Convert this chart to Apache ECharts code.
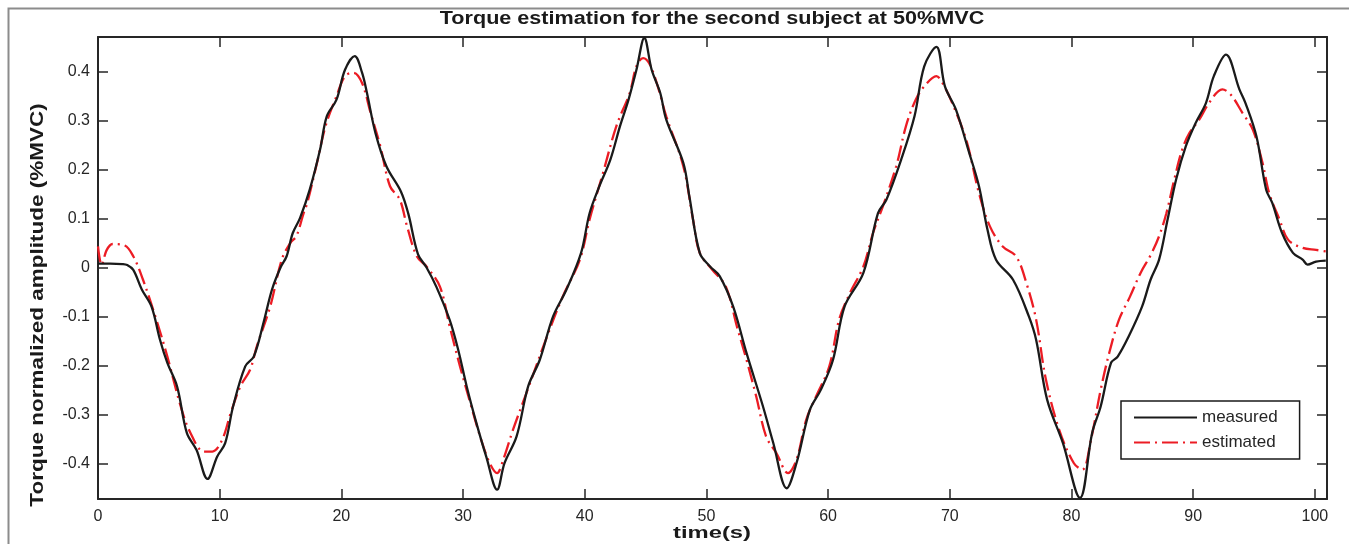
<!DOCTYPE html>
<html>
<head>
<meta charset="utf-8">
<script src="https://cdn.jsdelivr.net/npm/echarts@6/dist/echarts.min.js"></script>
<style>
html,body{margin:0;padding:0;background:#fff;}
#chart{width:1349px;height:544px;}
</style>
</head>
<body>
<div id="chart"></div>
<script>
// ---- data ----
var titleText = 'Torque estimation for the second subject at 50%MVC';
var xLabel = 'time(s)';
var yLabel = 'Torque normalized amplitude (%MVC)';
var seriesNames = ['measured', 'estimated'];

var measuredT = [0,1.0,2.0,2.4,2.9,3.6,4.4,5.1,5.7,6.5,7.3,8.1,9.0,9.8,10.45,11.1,12.1,12.8,13.6,14.3,15.0,15.5,16.0,16.6,17.4,18.25,18.8,19.6,20.3,21.1,21.7,22.1,22.8,23.7,24.9,25.5,26.3,27.0,27.8,28.9,29.6,30.3,31.1,31.9,32.8,33.4,34.4,35.35,36.3,37.4,38.5,39.7,40.4,41.2,42.1,42.9,43.6,44.25,44.9,45.5,46.2,46.7,48.1,48.6,49.45,50.3,51.1,52.2,53.3,54.65,55.5,56.6,57.4,58.5,59.4,60.4,61.35,62.9,64.1,64.8,66.0,67.1,67.9,68.9,69.6,70.5,71.6,72.4,73.1,73.8,75.2,76.5,77.1,78.0,79.3,80.7,81.7,82.4,83.25,83.8,84.7,85.8,86.5,87.2,87.9,88.6,89.4,90.2,91.05,91.7,92.7,93.8,94.3,95.2,96.0,96.5,97.3,98.2,99.0,99.4,100.1,100.9];
var measuredV = [0.008,0.008,0.007,0.005,-0.005,-0.045,-0.08,-0.148,-0.195,-0.243,-0.338,-0.373,-0.432,-0.386,-0.359,-0.284,-0.202,-0.182,-0.113,-0.045,0.0,0.023,0.07,0.101,0.159,0.241,0.309,0.343,0.404,0.432,0.398,0.357,0.275,0.207,0.155,0.11,0.027,0.0,-0.039,-0.107,-0.168,-0.243,-0.318,-0.386,-0.454,-0.4,-0.345,-0.243,-0.189,-0.1,-0.045,0.03,0.111,0.166,0.22,0.289,0.343,0.404,0.469,0.404,0.357,0.302,0.214,0.145,0.03,0.002,-0.018,-0.08,-0.175,-0.284,-0.359,-0.451,-0.4,-0.291,-0.25,-0.189,-0.08,-0.011,0.111,0.139,0.22,0.309,0.411,0.451,0.37,0.323,0.234,0.166,0.077,0.016,-0.025,-0.1,-0.148,-0.27,-0.359,-0.471,-0.338,-0.284,-0.195,-0.182,-0.141,-0.08,-0.025,0.016,0.098,0.18,0.248,0.295,0.336,0.391,0.435,0.364,0.336,0.268,0.159,0.132,0.071,0.03,0.016,0.006,0.012,0.014];

var estimatedT = [0,0.3,0.7,1.2,2.2,2.9,3.7,4.8,5.7,6.8,7.6,8.7,9.4,10.2,10.9,11.7,12.5,13.05,14.15,15.1,15.8,16.3,16.9,17.2,18.0,18.7,19.6,20.3,21.0,21.7,22.4,23.2,24.0,24.8,25.4,26.2,27.0,28.1,28.9,29.75,30.6,31.4,32.2,32.8,33.3,34.1,35.2,36.9,38.2,39.6,40.4,41.5,42.6,43.7,44.25,44.8,45.35,46.0,46.7,48.1,48.9,49.45,50.5,51.6,52.5,53.3,54.1,54.9,55.75,56.7,57.4,58.2,59.0,60.1,60.9,61.8,62.9,63.7,64.5,65.6,66.4,67.2,67.9,68.9,69.4,70.2,71.35,72.4,73.3,74.35,75.45,76.3,77.1,77.9,79.0,80.2,80.9,81.6,82.4,83.1,83.9,84.8,85.7,86.5,87.2,87.8,88.45,89.1,89.7,90.5,91.3,92.4,93.1,94.05,94.9,95.7,96.25,97.1,97.8,99.0,100.1,100.9];
var estimatedV = [0.043,0.005,0.035,0.048,0.045,0.023,-0.025,-0.107,-0.182,-0.284,-0.338,-0.376,-0.376,-0.352,-0.298,-0.243,-0.209,-0.161,-0.08,0.016,0.05,0.064,0.111,0.132,0.214,0.289,0.35,0.391,0.398,0.377,0.316,0.248,0.166,0.139,0.084,0.023,0.002,-0.039,-0.12,-0.202,-0.277,-0.345,-0.4,-0.42,-0.393,-0.332,-0.257,-0.141,-0.059,0.016,0.098,0.193,0.289,0.357,0.411,0.428,0.415,0.37,0.309,0.207,0.098,0.03,-0.005,-0.039,-0.12,-0.189,-0.264,-0.345,-0.379,-0.42,-0.393,-0.311,-0.264,-0.202,-0.107,-0.052,0.002,0.071,0.125,0.207,0.289,0.343,0.37,0.391,0.377,0.336,0.261,0.152,0.084,0.043,0.023,-0.032,-0.107,-0.229,-0.332,-0.4,-0.413,-0.352,-0.25,-0.175,-0.107,-0.06,-0.01,0.025,0.064,0.111,0.18,0.241,0.275,0.302,0.336,0.364,0.353,0.316,0.282,0.214,0.152,0.098,0.057,0.04,0.036,0.033];

var xMin = 0, xMax = 101, xStep = 10;
var yMin = -0.473, yMax = 0.471;

// ---- build ----
function pairs(t, v) { var o = []; for (var i = 0; i < t.length; i++) o.push([t[i], v[i]]); return o; }
var FONT = 'Arial, "Liberation Sans", Helvetica, sans-serif';
var textCol = '#262626';

var chart = echarts.init(document.getElementById('chart'), null, { renderer: 'canvas' });

function yFmt(v) {
  var r = Math.round(v * 10) / 10;
  if (Math.abs(v - r) > 1e-6) return '';
  if (Math.abs(r) < 1e-9) return '0';
  return r.toFixed(1);
}

var axisLineStyle = { color: '#262626', width: 2 };
var tickStyle = { show: true, inside: true, length: 10, lineStyle: { color: '#262626', width: 1.5 } };

var option = {
  backgroundColor: '#fff',
  animation: false,
  grid: { left: 98, right: 22, top: 37, bottom: 45, containLabel: false },
  xAxis: [{
    type: 'value', min: xMin, max: xMax, interval: xStep, position: 'bottom',
    axisLine: { show: true, onZero: false, lineStyle: axisLineStyle },
    axisTick: tickStyle,
    axisLabel: { fontFamily: FONT, fontSize: 16, color: textCol, margin: 10,
      formatter: function (v) { return (Math.abs(v % 10) < 1e-9) ? String(v) : ''; } },
    splitLine: { show: false }
  }, {
    type: 'value', min: xMin, max: xMax, interval: xStep, position: 'top',
    axisLine: { show: true, onZero: false, lineStyle: axisLineStyle },
    axisTick: tickStyle,
    axisLabel: { show: false }, splitLine: { show: false }
  }],
  yAxis: [{
    type: 'value', min: yMin, max: yMax, splitNumber: 9, position: 'left',
    axisLine: { show: true, onZero: false, lineStyle: axisLineStyle },
    axisTick: tickStyle,
    axisLabel: { fontFamily: FONT, fontSize: 16, color: textCol, margin: 8, formatter: yFmt,
      showMinLabel: false, showMaxLabel: false },
    splitLine: { show: false }
  }, {
    type: 'value', min: yMin, max: yMax, splitNumber: 9, position: 'right',
    axisLine: { show: true, onZero: false, lineStyle: axisLineStyle },
    axisTick: tickStyle,
    axisLabel: { show: false }, splitLine: { show: false }
  }],
  legend: {
    orient: 'vertical', left: 1121, top: 401,
    data: seriesNames,
    itemWidth: 63, itemHeight: 14, itemGap: 8,
    padding: [8, 22, 8, 12],
    borderColor: '#1a1a1a', borderWidth: 1.5, backgroundColor: '#fff',
    itemStyle: { opacity: 0 },
    textStyle: { fontFamily: FONT, fontSize: 17, color: textCol }
  },
  graphic: [{
    type: 'rect', left: 6, top: 6, silent: true,
    shape: { x: 0, y: 0, width: 1360, height: 560 },
    style: { fill: 'none', stroke: '#8c8c8c', lineWidth: 2 }
  }, {
    type: 'text', x: 712, y: 19, scaleX: 1.2, scaleY: 1, silent: true,
    style: { text: titleText, fontFamily: FONT, fontSize: 18, fontWeight: 'bold',
      fill: '#1a1a1a', textAlign: 'center', textVerticalAlign: 'middle' }
  }, {
    type: 'text', x: 712, y: 533, scaleX: 1.4, scaleY: 1, silent: true,
    style: { text: xLabel, fontFamily: FONT, fontSize: 17, fontWeight: 'bold',
      fill: '#1a1a1a', textAlign: 'center', textVerticalAlign: 'middle' }
  }, {
    type: 'text', x: 38, y: 305, rotation: Math.PI / 2, scaleX: 1.25, scaleY: 1, silent: true,
    style: { text: yLabel, fontFamily: FONT, fontSize: 18, fontWeight: 'bold',
      fill: '#1a1a1a', textAlign: 'center', textVerticalAlign: 'middle' }
  }],
  series: [{
    name: seriesNames[0], type: 'line', xAxisIndex: 0, yAxisIndex: 0,
    data: pairs(measuredT, measuredV),
    showSymbol: false, symbol: 'none', smooth: 0.35,
    lineStyle: { color: '#1a1a1a', width: 2.3 },
    itemStyle: { color: '#1a1a1a' }, z: 3
  }, {
    name: seriesNames[1], type: 'line', xAxisIndex: 0, yAxisIndex: 0,
    data: pairs(estimatedT, estimatedV),
    showSymbol: false, symbol: 'none', smooth: 0.35,
    lineStyle: { color: '#ec1c24', width: 2.3, type: [16, 5, 2, 5] },
    itemStyle: { color: '#ec1c24' }, z: 2
  }]
};
chart.setOption(option);
</script>
</body>
</html>
